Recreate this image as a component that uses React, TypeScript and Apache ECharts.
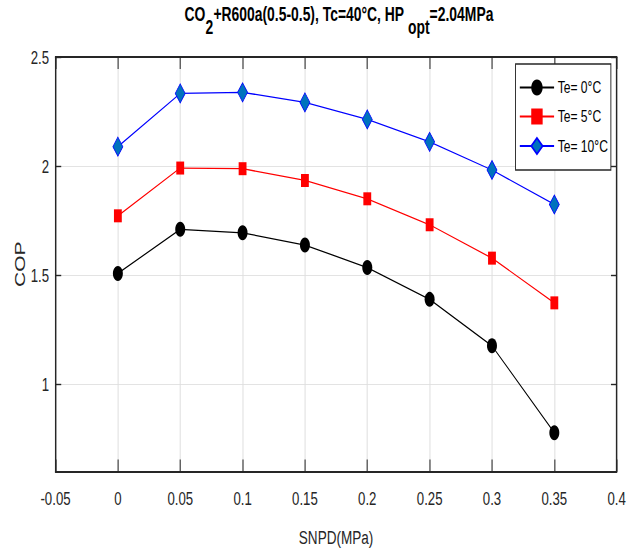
import React, { useEffect, useRef } from "react";
import * as echarts from "echarts";

const snpd = [0, 0.05, 0.1, 0.15, 0.2, 0.25, 0.3, 0.35];
const te0 = [1.508, 1.71, 1.694, 1.638, 1.535, 1.389, 1.176, 0.778];
const te5 = [1.772, 1.991, 1.988, 1.934, 1.85, 1.731, 1.578, 1.373];
const te10 = [2.089, 2.333, 2.338, 2.292, 2.214, 2.111, 1.982, 1.824];
const seriesNames = ["Te= 0°C", "Te= 5°C", "Te= 10°C"];
const yTicks = [1, 1.5, 2, 2.5];

const W = 628;
const H = 557;
const INNER_W = 880;
const SX = W / INNER_W;
const FONT = "'Liberation Sans', Arial, sans-serif";
const AX = "#262626";

export default function App() {
  const ref = useRef<HTMLDivElement>(null);
  useEffect(() => {
    if (!ref.current) return;
    const chart = echarts.init(ref.current, null, { renderer: "svg" });
    const pair = (vals: number[]) => snpd.map((x, i) => [x, vals[i]]);
    const xFmt = (v: number) => String(+v.toFixed(2));
    chart.setOption({
      animation: false,
      backgroundColor: "#fff",
      title: {
        left: 475,
        top: 5,
        textAlign: "center",
        padding: 0,
        text: "{a|CO}{s|2}{a|+R600a(0.5-0.5), Tc=40°C, HP }{s|opt}{a|=2.04MPa}",
        textStyle: {
          rich: {
            a: { fontFamily: FONT, fontSize: 19.5, fontWeight: "bold", color: "#000", lineHeight: 26, verticalAlign: "top" },
            s: { fontFamily: FONT, fontSize: 19.5, fontWeight: "bold", color: "#000", lineHeight: 26, verticalAlign: "top", padding: [13, 0, 0, 0] },
          },
        },
      },
      legend: {
        orient: "vertical",
        right: 24,
        top: 64,
        padding: [15, 4, 15, 5],
        itemWidth: 48,
        itemHeight: 20,
        itemGap: 12,
        borderColor: AX,
        borderWidth: 1.3,
        backgroundColor: "#fff",
        textStyle: { fontFamily: FONT, fontSize: 17, color: "#000" },
        data: seriesNames,
      },
      grid: { left: 77.8, right: 11.2, top: 57, bottom: 85.5, containLabel: false },
      xAxis: [
        {
          type: "value",
          min: -0.05,
          max: 0.4,
          interval: 0.05,
          name: "SNPD(MPa)",
          nameLocation: "middle",
          nameGap: 56,
          nameMoveOverlap: false,
          nameTextStyle: { fontFamily: FONT, fontSize: 19, color: AX },
          axisLine: { show: true, onZero: false, lineStyle: { color: AX, width: 2 } },
          axisTick: { show: true, inside: true, length: 12, lineStyle: { color: AX, width: 1.4 } },
          axisLabel: { fontFamily: FONT, fontSize: 18.5, color: AX, margin: 17, formatter: xFmt },
          splitLine: { show: true, lineStyle: { color: "#dedede", width: 1.4 } },
        },
        {
          type: "value",
          position: "top",
          min: -0.05,
          max: 0.4,
          interval: 0.05,
          axisLine: { show: true, onZero: false, lineStyle: { color: AX, width: 2 } },
          axisTick: { show: true, inside: true, length: 12, lineStyle: { color: AX, width: 1.4 } },
          axisLabel: { show: false },
          splitLine: { show: false },
        },
      ],
      yAxis: [
        {
          type: "value",
          min: 0.6,
          max: 2.5,
          name: "COP",
          nameLocation: "middle",
          nameRotate: 90,
          nameGap: 40,
          nameMoveOverlap: false,
          nameTextStyle: { fontFamily: FONT, fontSize: 21, color: AX },
          axisLine: { show: true, onZero: false, lineStyle: { color: AX, width: 2 } },
          axisTick: { show: true, inside: true, length: 8, customValues: yTicks, lineStyle: { color: AX, width: 1.4 } },
          axisLabel: { fontFamily: FONT, fontSize: 18.5, color: AX, margin: 9, customValues: yTicks, formatter: (v: number) => String(v) },
          splitLine: { show: true, lineStyle: { color: "#dedede", width: 1 } },
        },
        {
          type: "value",
          position: "right",
          min: 0.6,
          max: 2.5,
          axisLine: { show: true, onZero: false, lineStyle: { color: AX, width: 2 } },
          axisTick: { show: true, inside: true, length: 8, customValues: yTicks, lineStyle: { color: AX, width: 1.4 } },
          axisLabel: { show: false },
          splitLine: { show: false },
        },
      ],
      series: [
        {
          name: seriesNames[0],
          type: "line",
          data: pair(te0),
          symbol: "circle",
          symbolSize: [14, 15],
          lineStyle: { color: "#000", width: 1.3 },
          itemStyle: { color: "#000", borderColor: "#000", borderWidth: 0 },
        },
        {
          name: seriesNames[1],
          type: "line",
          data: pair(te5),
          symbol: "rect",
          symbolSize: [11, 13],
          lineStyle: { color: "#ff0000", width: 1.3 },
          itemStyle: { color: "#ff0000", borderColor: "#ff0000", borderWidth: 0 },
        },
        {
          name: seriesNames[2],
          type: "line",
          data: pair(te10),
          symbol: "diamond",
          symbolSize: [14, 19],
          lineStyle: { color: "#0000ff", width: 1.3 },
          itemStyle: { color: "#0072BD", borderColor: "#0000ff", borderWidth: 1 },
        },
      ],
    });
    return () => chart.dispose();
  }, []);
  return (
    <div style={{ position: "fixed", left: 0, top: 0, width: W, height: H, overflow: "hidden", background: "#fff" }}>
      <div
        ref={ref}
        style={{ width: INNER_W, height: H, transform: `scaleX(${SX})`, transformOrigin: "0 0" }}
      />
    </div>
  );
}
